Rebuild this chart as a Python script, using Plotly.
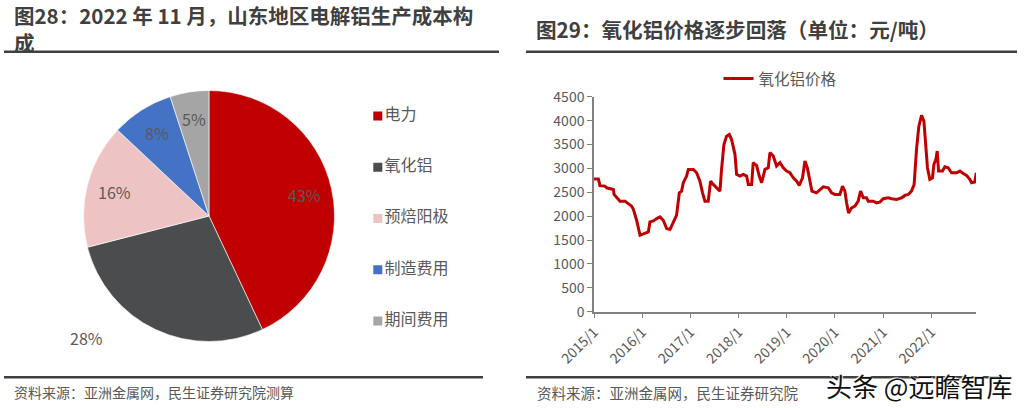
import math
import plotly.graph_objects as go

W, H = 1026, 408
FONT = "Noto Sans CJK SC"
GRAY_TXT = "#595959"

# ---- left: cost structure pie ----
pie_labels = ["电力", "氧化铝", "预焙阳极", "制造费用", "期间费用"]
pie_vals = [43, 28, 16, 8, 5]
pie_colors = ["#C00000", "#4B4C4E", "#EDC4C3", "#4472C4", "#A5A5A5"]

# ---- right: alumina price (yuan/ton) ----
price_dates = [
    "2015-01-01", "2015-02-03", "2015-02-15", "2015-03-25", "2015-04-07", "2015-05-02",
    "2015-05-28", "2015-06-02", "2015-06-22", "2015-07-17", "2015-08-24", "2015-09-18",
    "2015-10-13", "2015-10-26", "2015-11-20", "2015-12-16", "2016-01-22", "2016-02-17",
    "2016-02-29", "2016-03-26", "2016-04-20", "2016-05-15", "2016-06-09", "2016-07-05",
    "2016-07-30", "2016-08-24", "2016-09-18", "2016-10-09", "2016-10-26", "2016-11-08",
    "2016-12-03", "2016-12-16", "2017-01-23", "2017-02-17", "2017-03-14", "2017-04-03",
    "2017-04-21", "2017-05-16", "2017-06-03", "2017-06-23", "2017-07-19", "2017-08-13",
    "2017-08-25", "2017-09-12", "2017-10-02", "2017-10-23", "2017-11-09", "2017-12-05",
    "2017-12-17", "2018-01-11", "2018-02-06", "2018-03-03", "2018-03-16", "2018-04-10",
    "2018-04-22", "2018-05-18", "2018-06-07", "2018-06-25", "2018-07-20", "2018-08-14",
    "2018-08-27", "2018-09-21", "2018-10-16", "2018-11-11", "2018-12-06", "2018-12-31",
    "2019-01-25", "2019-02-20", "2019-03-17", "2019-04-06", "2019-05-01", "2019-05-19",
    "2019-06-06", "2019-06-26", "2019-07-11", "2019-08-15", "2019-09-10", "2019-10-05",
    "2019-11-12", "2019-12-07", "2020-01-01", "2020-02-08", "2020-02-28", "2020-03-17",
    "2020-03-30", "2020-04-14", "2020-05-07", "2020-06-01", "2020-06-26", "2020-07-14",
    "2020-08-03", "2020-08-28", "2020-09-10", "2020-10-18", "2020-11-12", "2020-12-07",
    "2021-01-02", "2021-02-09", "2021-03-06", "2021-04-13", "2021-05-21", "2021-06-15",
    "2021-07-10", "2021-08-04", "2021-08-24", "2021-09-11", "2021-09-29", "2021-10-19",
    "2021-11-06", "2021-11-21", "2021-12-03", "2021-12-21", "2022-01-10", "2022-01-21",
    "2022-02-05", "2022-02-15", "2022-02-25", "2022-03-27", "2022-04-14", "2022-05-09",
    "2022-06-03", "2022-07-11", "2022-08-06", "2022-08-31", "2022-09-25", "2022-10-20",
    "2022-11-02", "2022-11-27", "2022-12-08",
]
price_vals = [
    2780, 2780, 2640, 2630, 2595, 2575,
    2560, 2455, 2385, 2315, 2315, 2265,
    2210, 2150, 1915, 1600, 1640, 1670,
    1880, 1900, 1950, 1985, 1915, 1740,
    1720, 1880, 2020, 2490, 2525, 2700,
    2840, 2980, 2980, 2910, 2735, 2490,
    2315, 2315, 2735, 2665, 2595, 2525,
    2980, 3500, 3675, 3710, 3605, 3290,
    2875, 2840, 2875, 2840, 2665, 2665,
    3120, 3060, 2840, 2700, 2980, 3015,
    3330, 3260, 3050, 3120, 3015, 2945,
    2910, 2805, 2735, 2645, 2805, 3155,
    3015, 2770, 2525, 2490, 2560, 2615,
    2595, 2490, 2455, 2455, 2630, 2525,
    2280, 2070, 2175, 2210, 2315, 2525,
    2385, 2385, 2315, 2315, 2280, 2295,
    2365, 2385, 2365, 2350, 2385, 2435,
    2455, 2525, 2665, 3400, 3885, 4110,
    3990, 3465, 3015, 2770, 2805, 3085,
    3190, 3365, 2945, 2945, 3035, 3015,
    2910, 2910, 2945, 2895, 2855, 2770,
    2700, 2715, 2910,
]
x_tick_vals = ["2015-01-01", "2016-01-01", "2017-01-01", "2018-01-01",
               "2019-01-01", "2020-01-01", "2021-01-01", "2022-01-01"]
x_tick_text = ["2015/1", "2016/1", "2017/1", "2018/1",
               "2019/1", "2020/1", "2021/1", "2022/1"]


def px_x(p):
    return p / W


def px_y(p):
    return 1 - p / H


def note(text, x, y, size, color=GRAY_TXT, xanchor="center", **kw):
    fig.add_annotation(text=text, x=px_x(x), y=px_y(y), xref="paper", yref="paper",
                       xanchor=xanchor, yanchor="middle", showarrow=False, borderpad=0,
                       align="left", font=dict(family=FONT, size=size, color=color, **kw))


fig = go.Figure()

# pie: centre (209,216), radius ~125
cx, cy, r = 209, 216, 125.5
fig.add_trace(go.Pie(
    labels=pie_labels, values=pie_vals, sort=False, direction="clockwise", rotation=0,
    marker=dict(colors=pie_colors, line=dict(color="white", width=0.6)),
    textinfo="none",
    domain=dict(x=[px_x(cx - r), px_x(cx + r)], y=[px_y(cy + r), px_y(cy - r)]),
    showlegend=False, hoverinfo="label+percent", automargin=False,
))

# percent labels along each slice's mid-angle (28% sits outside, bottom-left, like the original)
total = sum(pie_vals)
cum = 0
for i, v in enumerate(pie_vals):
    mid = (cum + v / 2) / total * 2 * math.pi
    cum += v
    if i == 1:
        lx, ly = 86, 338
    else:
        lx = cx + 0.78 * r * math.sin(mid)
        ly = cy - 0.78 * r * math.cos(mid)
    note(f"{v}%", lx, ly, 16)

# pie legend drawn as markers on a hidden axis
fig.add_trace(go.Scatter(
    x=[0.06] * len(pie_labels), y=list(range(len(pie_labels))),
    mode="markers+text", text=pie_labels, textposition="middle right",
    marker=dict(symbol="square", size=9, color=pie_colors),
    textfont=dict(family=FONT, size=16, color=GRAY_TXT),
    xaxis="x2", yaxis="y2", showlegend=False, hoverinfo="skip",
))

# price line
fig.add_trace(go.Scatter(
    x=price_dates, y=price_vals, mode="lines", name="氧化铝价格",
    line=dict(color="#C00000", width=3), cliponaxis=False,
))

axis_col = "#808080"
fig.update_layout(
    template="none",
    width=W, height=H, autosize=False,
    margin=dict(l=0, r=0, t=0, b=0, pad=0, autoexpand=False),
    paper_bgcolor="white", plot_bgcolor="white",
    font=dict(family=FONT, color=GRAY_TXT),
    xaxis=dict(
        domain=[px_x(594), px_x(976)], type="date", automargin=False,
        range=["2015-01-01", "2022-12-06"],
        tickmode="array", tickvals=x_tick_vals, ticktext=x_tick_text,
        tickangle=-45, ticks="outside", ticklen=5, tickcolor=axis_col,
        showline=True, linecolor=axis_col, linewidth=1.5, showgrid=False, zeroline=False,
        tickfont=dict(family=FONT, size=14, color=GRAY_TXT),
    ),
    yaxis=dict(
        domain=[px_y(311.7), px_y(96.8)], range=[0, 4500], dtick=500, automargin=False,
        ticks="outside", ticklen=5, tickcolor=axis_col,
        showline=True, linecolor=axis_col, linewidth=1.5, showgrid=False, zeroline=False,
        tickfont=dict(family=FONT, size=14, color=GRAY_TXT),
    ),
    xaxis2=dict(domain=[px_x(370), px_x(500)], range=[0, 1], visible=False,
                fixedrange=True, automargin=False),
    yaxis2=dict(domain=[px_y(336.4), px_y(100.6)], range=[4.3, -0.3], visible=False,
                fixedrange=True, automargin=False),
    legend=dict(
        orientation="h", x=px_x(780), y=px_y(79), xanchor="center", yanchor="middle",
        font=dict(family=FONT, size=15.5, color=GRAY_TXT), bgcolor="rgba(0,0,0,0)",
    ),
    showlegend=True,
)

# titles, sources, watermark
TITLE_COL = "#404040"
note("<b>图28：2022 年 11 月，山东地区电解铝生产成本构<br>成</b>", 13, 28.3, 20.5,
     TITLE_COL, "left")
note("<b>图29：氧化铝价格逐步回落（单位：元/吨）</b>", 535, 29, 20.6, TITLE_COL, "left")
note("资料来源：亚洲金属网，民生证券研究院测算", 13, 392, 14, GRAY_TXT, "left")
note("资料来源：亚洲金属网，民生证券研究院", 536, 392, 14.5, GRAY_TXT, "left")
note("头条 @远瞻智库", 1013, 385, 26, "#111111", "right",
     shadow="1px 1px 1px #fff, -1px -1px 1px #fff")

rule = dict(color="#404040", width=2.5)
for x0, x1, y in [(4, 499, 51.7), (526, 1017, 51.7), (4, 483, 377.3), (526, 1000, 377.3)]:
    fig.add_shape(type="line", xref="paper", yref="paper", x0=px_x(x0), x1=px_x(x1),
                  y0=px_y(y), y1=px_y(y), line=rule, layer="below")

fig.write_html("out.html", config={"displayModeBar": False},
               post_script="document.body.style.margin='0';")
